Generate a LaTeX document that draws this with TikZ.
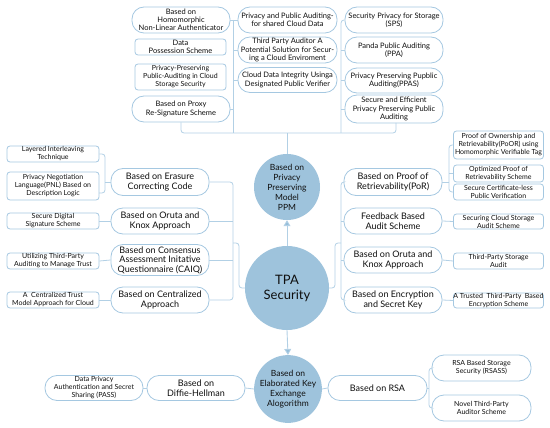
\documentclass[tikz,border=0pt]{standalone}
\usepackage{fontspec}
\setmainfont{Lato}
\usetikzlibrary{arrows.meta}
\definecolor{lc}{RGB}{178,208,229}
\definecolor{bc}{RGB}{165,200,225}
\definecolor{cf}{RGB}{158,195,220}
\definecolor{tc}{RGB}{15,15,15}
\definecolor{ac}{RGB}{150,190,218}
\newcommand\fa{\fontsize{7.5}{8.2}\selectfont}
\newcommand\fb{\fontsize{9}{9.6}\selectfont}
\newcommand\fc{\fontsize{7}{8}\selectfont}
\newcommand\fd{\fontsize{8.5}{10}\selectfont}
\newcommand\fe{\fontsize{13}{15}\selectfont}
\tikzset{
 pill/.style 2 args={draw=bc, line width=0.8pt, fill=white, rounded corners=12pt, minimum width=#1pt, minimum height=#2pt, inner sep=0pt, align=center, text=tc},
 rbox/.style 2 args={draw=bc, line width=0.8pt, fill=white, rounded corners=3pt, minimum width=#1pt, minimum height=#2pt, inner sep=0pt, align=center, text=tc},
 circ/.style={circle, fill=cf, minimum size=#1pt, inner sep=0pt, align=center, text=tc},
 conn/.style={draw=lc, line width=0.8pt, rounded corners=3pt},
 arr/.style={draw=lc, line width=0.9pt, -{Triangle[width=7pt,length=6pt,fill=ac]}}
}
\begin{document}
\begin{tikzpicture}[x=1pt,y=-1pt]
\useasboundingbox (0,0) rectangle (550,428);
% ---- top ----
\node[pill={98}{26},font=\fa] (t1) at (181,20) {Based on\\Homomorphic\\Non-Linear Authenticator};
\node[rbox={91}{16},font=\fa] (t2) at (180.5,47) {Data\\Possession Scheme};
\node[rbox={91}{26},font=\fc] (t3) at (180.5,77) {Privacy-Preserving\\Public-Auditing in Cloud\\Storage Security};
\node[pill={98}{26},font=\fa] (t4) at (181,109) {Based on Proxy\\Re-Signature Scheme};
\node[pill={99}{26},font=\fa] (t5) at (287.5,20) {Privacy and Public Auditing-\\for shared Cloud Data};
\node[pill={99}{26},font=\fa] (t6) at (287.5,50) {Third Party Auditor A\\Potential Solution for Secur-\\ing a Cloud Enviroment};
\node[pill={99}{25},font=\fa] (t7) at (287.5,80) {Cloud Data Integrity Usinga\\Designated Public Verifier};
\node[pill={98}{26},font=\fa] (t8) at (394,20) {Security Privacy for Storage\\(SPS)};
\node[pill={98}{26},font=\fa] (t9) at (394,50) {Panda Public Auditing\\(PPA)};
\node[pill={98}{25},font=\fa] (t10) at (394,80.5) {Privacy Preserving Pupblic\\Auditing(PPAS)};
\node[pill={98}{28},font=\fa] (t11) at (394,109) {Secure and Efficient\\Privacy Preserving Public\\Auditing};
% ---- circles ----
\node[circ=66,font=\fd] (ppm) at (287,187) {Based on\\Privacy\\Preserving\\Model\\PPM};
\node[circ=84,font=\fe] (tpa) at (287,288) {TPA\\Security};
\node[circ=66,font=\fd] (eka) at (288,389) {Based on\\Elaborated Key\\Exchange\\Alogorithm};
% ---- left ----
\node[pill={98}{27},font=\fb] (l1) at (160,182) {Based on Erasure\\Correcting Code};
\node[pill={98}{26},font=\fb] (l2) at (160,221) {Based on Oruta and\\Knox Approach};
\node[pill={98}{31},font=\fb] (l3) at (160,260) {Based on Consensus\\Assessment Initative\\Questionnaire (CAIQ)};
\node[pill={98}{26},font=\fb] (l4) at (160,300) {Based on Centralized\\Approach};
\node[rbox={92}{16},font=\fc] (r1) at (53,154) {Layered Interleaving\\Technique};
\node[rbox={92}{28},font=\fc] (r2) at (53,186) {Privacy Negotiation\\Language(PNL) Based on\\Description Logic};
\node[rbox={92}{16},font=\fc] (r3) at (53,221) {Secure Digital\\Signature Scheme};
\node[rbox={92}{16},font=\fc] (r4) at (53,261) {Utilizing Third-Party\\Auditing to Manage Trust};
\node[rbox={92}{16},font=\fc] (r5) at (53,300) {A\ \ Centralized Trust\\Model Approach for Cloud};
% ---- right ----
\node[pill={98}{27},font=\fb] (R1) at (393,182) {Based on Proof of\\Retrievability(PoR)};
\node[pill={98}{26},font=\fb] (R2) at (393,221) {Feedback Based\\Audit Scheme};
\node[pill={98}{26},font=\fb] (R3) at (393,260) {Based on Oruta and\\Knox Approach};
\node[pill={98}{26},font=\fb] (R4) at (393,300) {Based on Encryption\\and Secret Key};
\node[rbox={90}{28},font=\fc] (s1) at (498.5,145) {Proof of Ownership and\\Retrievability(PoOR) using\\Homomorphic Verifiable Tag};
\node[rbox={90}{17},font=\fc] (s2) at (498.5,173.5) {Optimized Proof of\\Retrievability Scheme};
\node[rbox={90}{16},font=\fc] (s3) at (498.5,192) {Secure Certificate-less\\Public Verification};
\node[rbox={90}{15},font=\fc] (s4) at (498.5,221.5) {Securing Cloud Storage\\Audit Scheme};
\node[rbox={90}{16},font=\fc] (s5) at (498.5,261) {Third-Party Storage\\Audit};
\node[rbox={90}{15},font=\fc] (s6) at (498.5,300.5) {A Trusted\ \ Third-Party\ \ Based\\Encryption Scheme};
% ---- bottom ----
\node[pill={98}{25},font=\fb] (dh) at (196,388) {Based on\\Diffie-Hellman};
\node[pill={98}{25},font=\fc] (pass) at (94,388) {Data Privacy\\Authentication and Secret\\Sharing (PASS)};
\node[pill={99}{25},font=\fb] (rsa) at (377.5,388) {Based on RSA};
\node[pill={99}{26},font=\fc] (q1) at (481.5,368) {RSA Based Storage\\Security (RSASS)};
\node[pill={99}{26},font=\fc] (q2) at (481.5,408) {Novel Third-Party\\Auditor Scheme};
% ---- connectors top ----
\draw[conn] (t1.east) -- (t5.west);
\draw[conn] (233,20) -- (233,133);
\draw[conn] (t4.east) -- (233,109);
\draw[conn] (t6.west) -- (233,50);
\draw[conn] (t7.west) -- (233,80);
\draw[conn] (t8.west) -- (341,20) -- (341,133);
\draw[conn] (t9.west) -- (341,50);
\draw[conn] (t10.west) -- (341,80.5);
\draw[conn] (t11.west) -- (341,109);
\draw[conn] (t4.south) -- (181,133) -- (396,133) -- (396,123);
\draw[conn] (287,133) -- (ppm.north);
% ---- connectors left ----
\draw[conn] (r1.east) -- (105,154) -- (105,193) -- (99,193);
\draw[conn] (105,182) -- (l1.west);
\draw[conn] (r3.east) -- (l2.west);
\draw[conn] (r4.east) -- (l3.west);
\draw[conn] (r5.east) -- (l4.west);
\draw[conn] (l1.east) -- (233,182) -- (233,300) -- (l4.east);
\draw[conn] (l2.east) -- (233,221);
\draw[conn] (l3.east) -- (233,260);
\draw[conn] (tpa.west) -- (239,288) -- (239,243) -- (233,243);
% ---- connectors right ----
\draw[conn] (R1.west) -- (341,182) -- (341,300) -- (R4.west);
\draw[conn] (R2.west) -- (341,221);
\draw[conn] (R3.west) -- (341,260);
\draw[conn] (tpa.east) -- (335,288) -- (335,243) -- (341,243);
\draw[conn] (s1.west) -- (449,145) -- (449,192) -- (s3.west);
\draw[conn] (R1.east) -- (449,182);
\draw[conn] (s2.west) -- (449,173.5);
\draw[conn] (R2.east) -- (s4.west);
\draw[conn] (R3.east) -- (s5.west);
\draw[conn] (R4.east) -- (s6.west);
% ---- connectors bottom ----
\draw[conn] (pass.east) -- (dh.west);
\draw[conn] (dh.east) -- (eka.west);
\draw[conn] (eka.east) -- (rsa.west);
\draw[conn] (q1.west) -- (429,368) -- (429,408) -- (q2.west);
\draw[conn] (rsa.east) -- (429,388);
% ---- arrows ----
\draw[arr] (tpa.north) -- (ppm.south);
\draw[arr] (tpa.south) -- (eka.north);
\end{tikzpicture}
\end{document}
